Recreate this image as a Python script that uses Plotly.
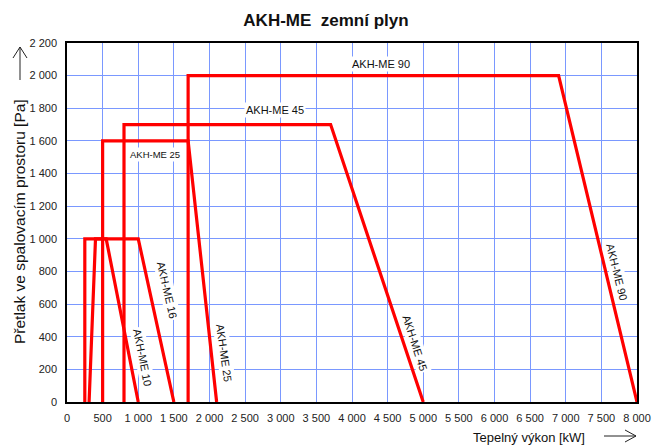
import plotly.graph_objects as go

# ---- data ----
series_names = ["AKH-ME 10", "AKH-ME 16", "AKH-ME 25", "AKH-ME 45", "AKH-ME 90"]
x_10 = [250, 250, 550, 1000]
y_10 = [0, 1000, 1000, 0]
x_16 = [310, 400, 1000, 1500]
y_16 = [0, 1000, 1000, 0]
x_25 = [500, 500, 1700, 2100]
y_25 = [0, 1600, 1600, 0]
x_45 = [800, 800, 3700, 5000]
y_45 = [0, 1700, 1700, 0]
x_90 = [1700, 1700, 6900, 8000]
y_90 = [0, 2000, 2000, 0]

x_ticks = list(range(0, 8001, 500))
y_ticks = list(range(0, 2201, 200))
def fmt(v):
    return f"{v:,}".replace(",", " ")
x_ticktext = [fmt(v) for v in x_ticks]
y_ticktext = [fmt(v) for v in y_ticks]

# label positions (data coords) and angles
labels = [
    ("AKH-ME 90", 4400, 2070, 0, 11),
    ("AKH-ME 45", 2920, 1790, 0, 11),
    ("AKH-ME 25", 1235, 1514, 0, 9.5),
    ("AKH-ME 16", 1404, 686, 77, 11),
    ("AKH-ME 10", 1060, 276, 79, 11),
    ("AKH-ME 25", 2204, 300, 82, 11),
    ("AKH-ME 45", 4884, 362, 72, 11),
    ("AKH-ME 90", 7719, 797, 76, 11),
]

fig = go.Figure()
for name, xs, ys in zip(series_names, [x_10, x_16, x_25, x_45, x_90], [y_10, y_16, y_25, y_45, y_90]):
    fig.add_trace(go.Scatter(x=xs, y=ys, mode="lines", name=name,
                             line=dict(color="#ff0000", width=3.2), showlegend=False,
                             hoverinfo="skip"))

FONT = "Liberation Sans, Arial, sans-serif"
anns = []
for text, lx, ly, ang, fs in labels:
    anns.append(dict(x=lx, y=ly, xref="x", yref="y", text=text, showarrow=False,
                     textangle=ang, bgcolor="white", borderpad=1,
                     xanchor="center", yanchor="middle",
                     font=dict(family=FONT, size=fs, color="#111")))

# axis titles
L, R, T, B = 67, 637, 43, 402
W, H = R - L, B - T
def px(xp, yp):
    return (xp - L) / W, (B - yp) / H

ytx, yty = px(19, 222)
anns.append(dict(x=ytx, y=yty, xref="paper", yref="paper", text="Přetlak ve spalovacím prostoru [Pa]",
                 textangle=-90, showarrow=False, xanchor="center", yanchor="middle",
                 font=dict(family=FONT, size=15.5, color="#111")))
xtx, xty = px(529, 437)
anns.append(dict(x=xtx, y=xty, xref="paper", yref="paper", text="Tepelný výkon [kW]",
                 showarrow=False, xanchor="center", yanchor="middle",
                 font=dict(family=FONT, size=13, color="#111")))

shapes = []
def seg(x0, y0, x1, y1):
    a0, b0 = px(x0, y0)
    a1, b1 = px(x1, y1)
    shapes.append(dict(type="line", xref="paper", yref="paper", x0=a0, y0=b0, x1=a1, y1=b1,
                       line=dict(color="#222", width=1)))
# up arrow
seg(20, 80, 20, 47)
seg(20, 47, 13, 58)
seg(20, 47, 27, 58)
# right arrow
seg(604, 436, 636, 436)
seg(636, 436, 625, 430)
seg(636, 436, 625, 442)

fig.update_layout(
    width=652, height=446,
    margin=dict(l=L, r=652 - R, t=T, b=446 - B, autoexpand=False),
    paper_bgcolor="white", plot_bgcolor="white",
    title=dict(text="<b>AKH-ME  zemní plyn</b>", x=0.5, xanchor="center", y=0.955, yanchor="middle",
               font=dict(family=FONT, size=17, color="#111")),
    xaxis=dict(range=[0, 8000], tickvals=x_ticks, ticktext=x_ticktext, automargin=False,
               showgrid=True, gridcolor="#7a98ff", gridwidth=1, zeroline=False,
               showline=True, linecolor="black", linewidth=1.5, mirror=True,
               ticks="", ticklabelstandoff=5,
               tickfont=dict(family=FONT, size=11, color="#222")),
    yaxis=dict(range=[0, 2200], tickvals=y_ticks, ticktext=y_ticktext, automargin=False,
               showgrid=True, gridcolor="#7a98ff", gridwidth=1, zeroline=False,
               showline=True, linecolor="black", linewidth=1.5, mirror=True,
               ticks="", ticklabelstandoff=6,
               tickfont=dict(family=FONT, size=11, color="#222")),
    annotations=anns,
    shapes=shapes,
)
fig.write_html("out.html", config={"displayModeBar": False},
               post_script="document.body.style.margin='0px';document.body.style.overflow='hidden';")
